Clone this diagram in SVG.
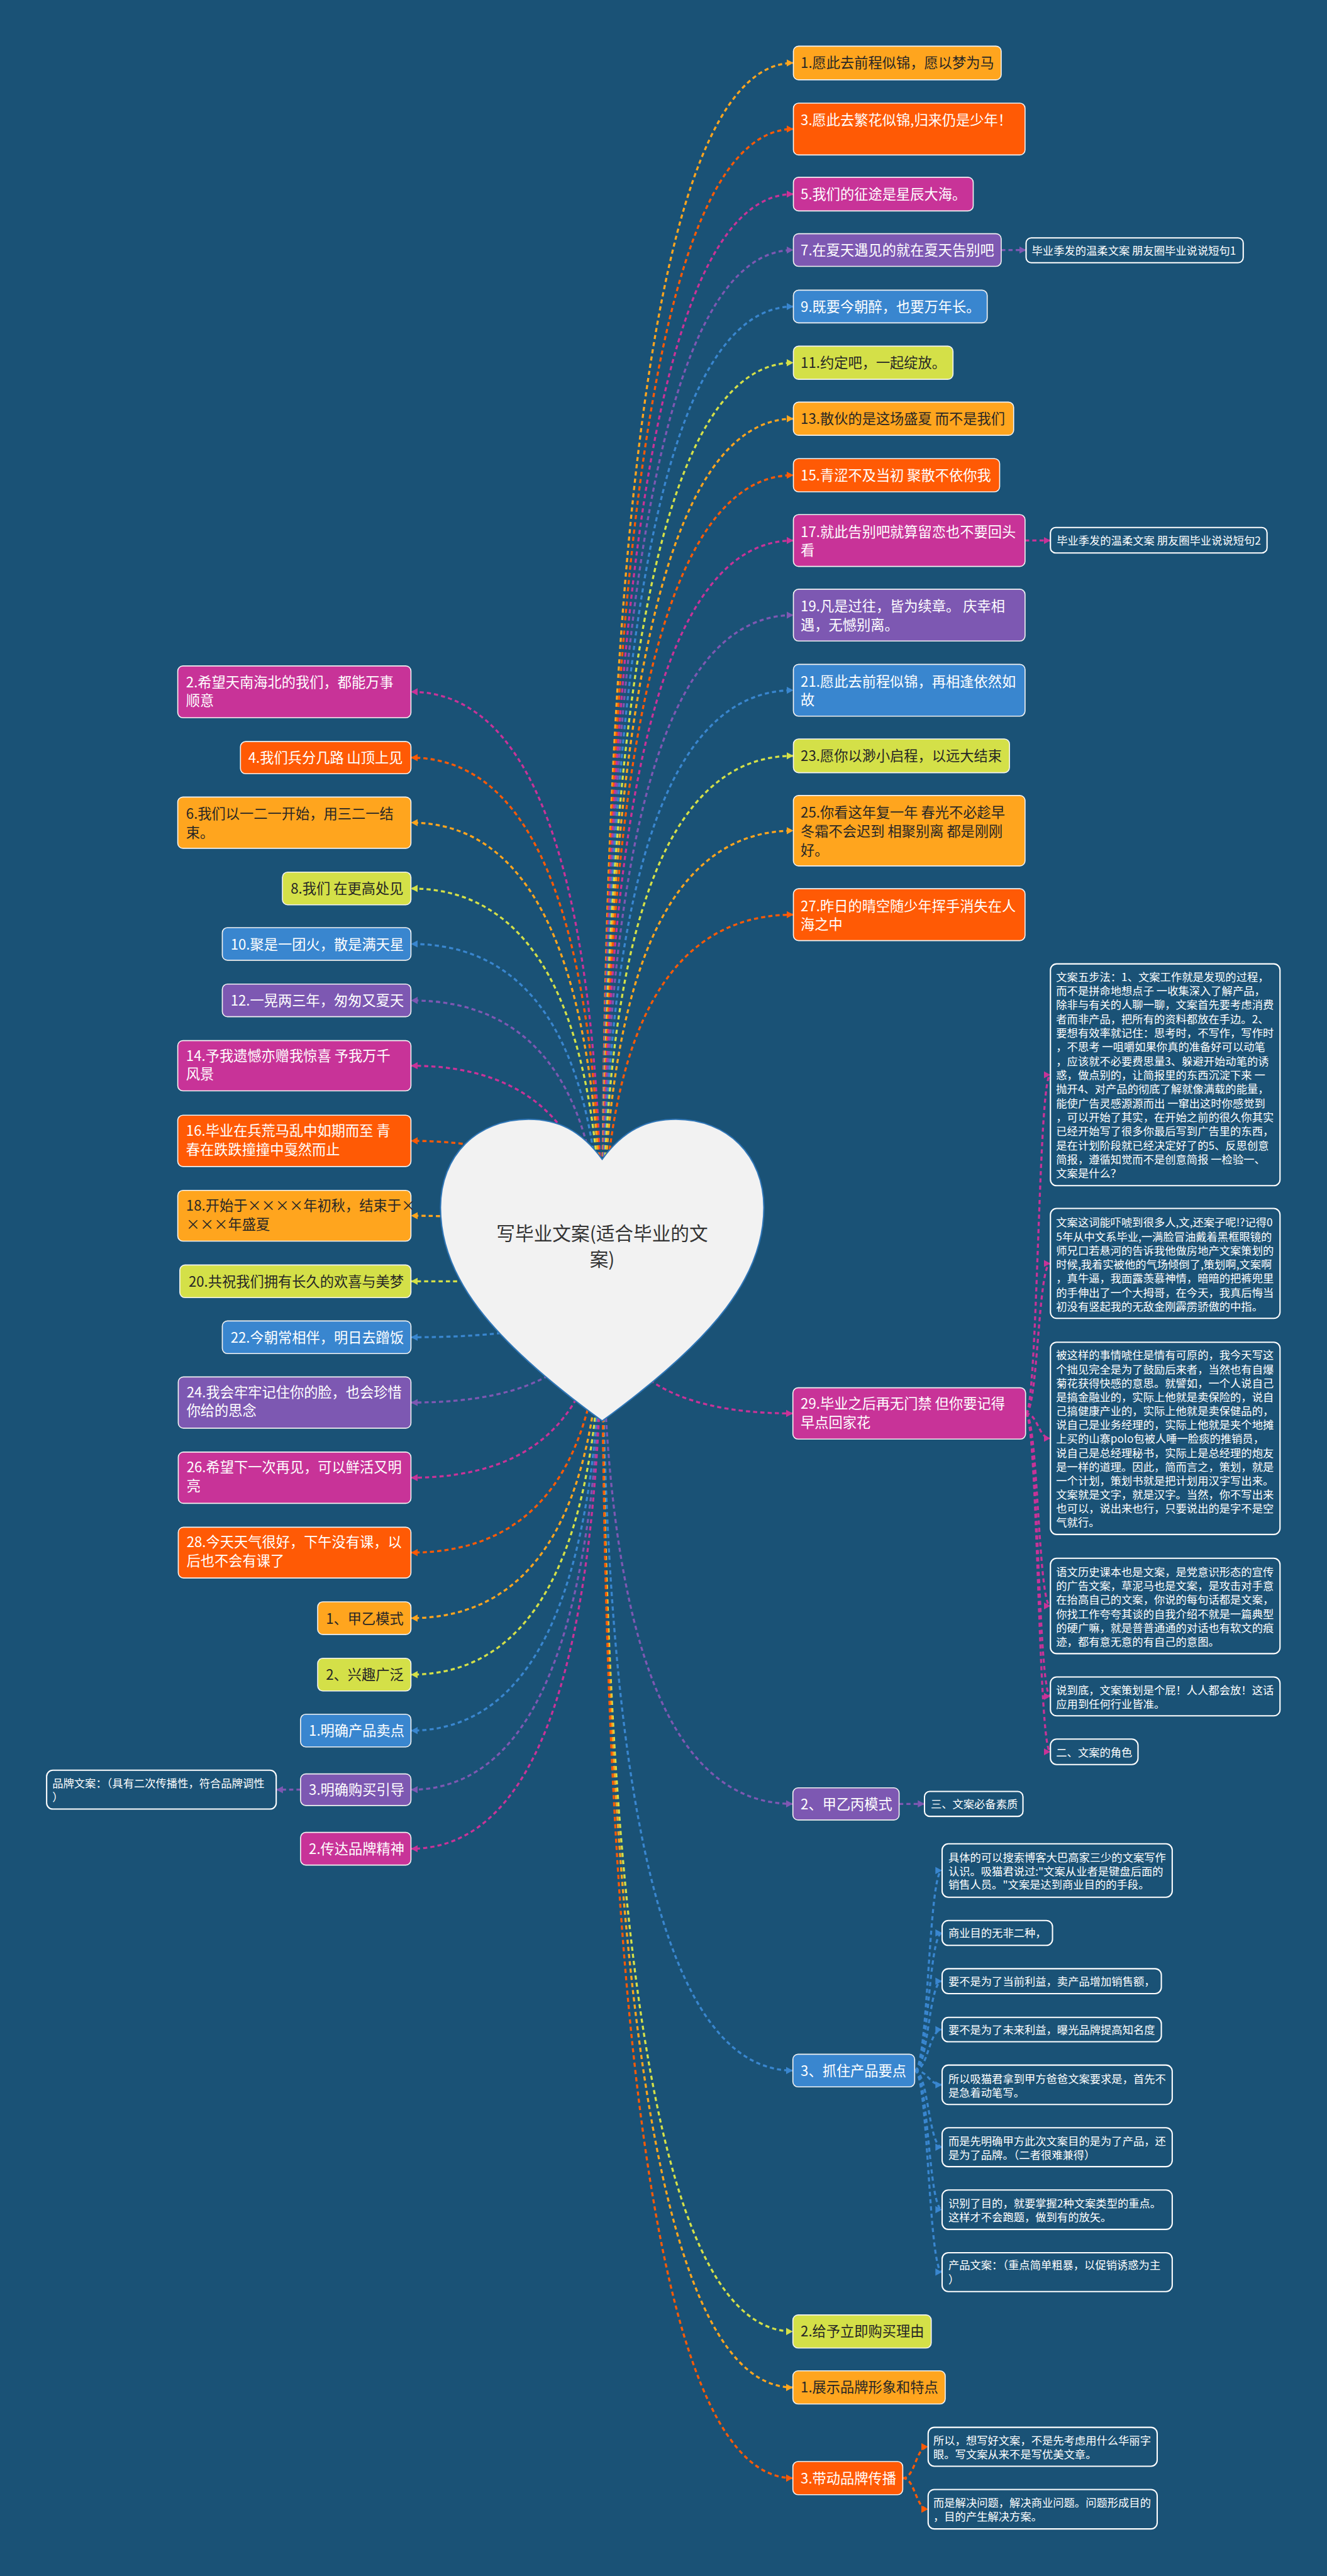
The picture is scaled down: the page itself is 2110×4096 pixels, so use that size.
<svg xmlns="http://www.w3.org/2000/svg" width="2110" height="4096" viewBox="0 0 2110 4096">
<style>
text{font-family:"Noto Sans CJK SC","Noto Sans",sans-serif;}
.nt{font-size:27px;}
.dk{fill:#262626;}
.wt{fill:#ffffff;}
.st{font-size:21px;fill:#ffffff;}
.box{stroke:#f2f2f2;stroke-width:2;}
.tb{fill:#1A5276;stroke:#ffffff;stroke-width:2.5;}
.c{fill:none;stroke-width:4;stroke-dasharray:8 6;}
.oy{fill:#FFA51E;} .ro{fill:#FF5A05;} .mg{fill:#C83398;} .pu{fill:#7D58B2;} .bl{fill:#3986CF;} .yg{fill:#D4E048;}
.coy{stroke:#FFA51E;} .cro{stroke:#FF5A05;} .cmg{stroke:#C83398;} .cpu{stroke:#7D58B2;} .cbl{stroke:#3986CF;} .cyg{stroke:#D4E048;}
</style>
<defs>
<marker id="m-oy" markerUnits="userSpaceOnUse" markerWidth="14" markerHeight="16" refX="13" refY="8" orient="auto"><path d="M0,1 L13,8 L0,15 Z" fill="#FFA51E"/></marker>
<marker id="m-ro" markerUnits="userSpaceOnUse" markerWidth="14" markerHeight="16" refX="13" refY="8" orient="auto"><path d="M0,1 L13,8 L0,15 Z" fill="#FF5A05"/></marker>
<marker id="m-mg" markerUnits="userSpaceOnUse" markerWidth="14" markerHeight="16" refX="13" refY="8" orient="auto"><path d="M0,1 L13,8 L0,15 Z" fill="#C83398"/></marker>
<marker id="m-pu" markerUnits="userSpaceOnUse" markerWidth="14" markerHeight="16" refX="13" refY="8" orient="auto"><path d="M0,1 L13,8 L0,15 Z" fill="#7D58B2"/></marker>
<marker id="m-bl" markerUnits="userSpaceOnUse" markerWidth="14" markerHeight="16" refX="13" refY="8" orient="auto"><path d="M0,1 L13,8 L0,15 Z" fill="#3986CF"/></marker>
<marker id="m-yg" markerUnits="userSpaceOnUse" markerWidth="14" markerHeight="16" refX="13" refY="8" orient="auto"><path d="M0,1 L13,8 L0,15 Z" fill="#D4E048"/></marker>
</defs>
<rect x="0" y="0" width="2110" height="4096" fill="#1A5276"/>
<g transform="scale(0.824)">
<g id="connectors">
<path class="c coy" marker-end="url(#m-oy)" d="M1162,2470 Q1162,121.5 1531,121.5"/>
<path class="c cro" marker-end="url(#m-ro)" d="M1162,2470 Q1162,249 1531,249"/>
<path class="c cmg" marker-end="url(#m-mg)" d="M1162,2470 Q1162,374.5 1531,374.5"/>
<path class="c cpu" marker-end="url(#m-pu)" d="M1162,2470 Q1162,482.5 1531,482.5"/>
<path class="c cbl" marker-end="url(#m-bl)" d="M1162,2470 Q1162,591.5 1531,591.5"/>
<path class="c cyg" marker-end="url(#m-yg)" d="M1162,2470 Q1162,700 1531,700"/>
<path class="c coy" marker-end="url(#m-oy)" d="M1162,2470 Q1162,808 1531,808"/>
<path class="c cro" marker-end="url(#m-ro)" d="M1162,2470 Q1162,917 1531,917"/>
<path class="c cmg" marker-end="url(#m-mg)" d="M1162,2470 Q1162,1043 1531,1043"/>
<path class="c cpu" marker-end="url(#m-pu)" d="M1162,2470 Q1162,1187 1531,1187"/>
<path class="c cbl" marker-end="url(#m-bl)" d="M1162,2470 Q1162,1332 1531,1332"/>
<path class="c cyg" marker-end="url(#m-yg)" d="M1162,2470 Q1162,1458.5 1531,1458.5"/>
<path class="c coy" marker-end="url(#m-oy)" d="M1162,2470 Q1162,1603 1531,1603"/>
<path class="c cro" marker-end="url(#m-ro)" d="M1162,2470 Q1162,1765 1531,1765"/>
<path class="c cmg" marker-end="url(#m-mg)" d="M1162,2470 Q1162,2727.5 1530,2727.5"/>
<path class="c cpu" marker-end="url(#m-pu)" d="M1162,2470 Q1162,3481 1530,3481"/>
<path class="c cbl" marker-end="url(#m-bl)" d="M1162,2470 Q1162,3995.5 1530,3995.5"/>
<path class="c cyg" marker-end="url(#m-yg)" d="M1162,2470 Q1162,4499 1530,4499"/>
<path class="c coy" marker-end="url(#m-oy)" d="M1162,2470 Q1162,4607 1530,4607"/>
<path class="c cro" marker-end="url(#m-ro)" d="M1162,2470 Q1162,4782 1530,4782"/>
<path class="c cmg" marker-end="url(#m-mg)" d="M1162,2470 Q1162,1335 793,1335"/>
<path class="c cro" marker-end="url(#m-ro)" d="M1162,2470 Q1162,1462 793,1462"/>
<path class="c coy" marker-end="url(#m-oy)" d="M1162,2470 Q1162,1587.5 793,1587.5"/>
<path class="c cyg" marker-end="url(#m-yg)" d="M1162,2470 Q1162,1714.5 793,1714.5"/>
<path class="c cbl" marker-end="url(#m-bl)" d="M1162,2470 Q1162,1821.5 793,1821.5"/>
<path class="c cpu" marker-end="url(#m-pu)" d="M1162,2470 Q1162,1930.5 793,1930.5"/>
<path class="c cmg" marker-end="url(#m-mg)" d="M1162,2470 Q1162,2056.5 793,2056.5"/>
<path class="c cro" marker-end="url(#m-ro)" d="M1162,2470 Q1162,2201.5 793,2201.5"/>
<path class="c coy" marker-end="url(#m-oy)" d="M1162,2470 Q1162,2346 793,2346"/>
<path class="c cyg" marker-end="url(#m-yg)" d="M1162,2470 Q1162,2472.5 793,2472.5"/>
<path class="c cbl" marker-end="url(#m-bl)" d="M1162,2470 Q1162,2580.5 793,2580.5"/>
<path class="c cpu" marker-end="url(#m-pu)" d="M1162,2470 Q1162,2706.5 793,2706.5"/>
<path class="c cmg" marker-end="url(#m-mg)" d="M1162,2470 Q1162,2851.5 793,2851.5"/>
<path class="c cro" marker-end="url(#m-ro)" d="M1162,2470 Q1162,2996 793,2996"/>
<path class="c coy" marker-end="url(#m-oy)" d="M1162,2470 Q1162,3122.5 793,3122.5"/>
<path class="c cyg" marker-end="url(#m-yg)" d="M1162,2470 Q1162,3231.5 793,3231.5"/>
<path class="c cbl" marker-end="url(#m-bl)" d="M1162,2470 Q1162,3339.5 793,3339.5"/>
<path class="c cpu" marker-end="url(#m-pu)" d="M1162,2470 Q1162,3453.5 793,3453.5"/>
<path class="c cmg" marker-end="url(#m-mg)" d="M1162,2470 Q1162,3567.5 793,3567.5"/>
<path class="c cpu" marker-end="url(#m-pu)" d="M1932,482.5 L1980,482.5"/>
<path class="c cmg" marker-end="url(#m-mg)" d="M1978,1043 L2027,1043"/>
<path class="c cmg" marker-end="url(#m-mg)" d="M1979,2727.5 C2003,2727.5 2003,2074 2027,2074"/>
<path class="c cmg" marker-end="url(#m-mg)" d="M1979,2727.5 C2003,2727.5 2003,2438 2027,2438"/>
<path class="c cmg" marker-end="url(#m-mg)" d="M1979,2727.5 C2003,2727.5 2003,2775.5 2027,2775.5"/>
<path class="c cmg" marker-end="url(#m-mg)" d="M1979,2727.5 C2003,2727.5 2003,3099 2027,3099"/>
<path class="c cmg" marker-end="url(#m-mg)" d="M1979,2727.5 C2003,2727.5 2003,3273.5 2027,3273.5"/>
<path class="c cmg" marker-end="url(#m-mg)" d="M1979,2727.5 C2003,2727.5 2003,3380.5 2027,3380.5"/>
<path class="c cpu" marker-end="url(#m-pu)" d="M1735,3481 L1784,3481"/>
<path class="c cbl" marker-end="url(#m-bl)" d="M1765,3995.5 C1791.5,3995.5 1791.5,3609.5 1818,3609.5"/>
<path class="c cbl" marker-end="url(#m-bl)" d="M1765,3995.5 C1791.5,3995.5 1791.5,3730 1818,3730"/>
<path class="c cbl" marker-end="url(#m-bl)" d="M1765,3995.5 C1791.5,3995.5 1791.5,3823 1818,3823"/>
<path class="c cbl" marker-end="url(#m-bl)" d="M1765,3995.5 C1791.5,3995.5 1791.5,3916.5 1818,3916.5"/>
<path class="c cbl" marker-end="url(#m-bl)" d="M1765,3995.5 C1791.5,3995.5 1791.5,4023 1818,4023"/>
<path class="c cbl" marker-end="url(#m-bl)" d="M1765,3995.5 C1791.5,3995.5 1791.5,4143.5 1818,4143.5"/>
<path class="c cbl" marker-end="url(#m-bl)" d="M1765,3995.5 C1791.5,3995.5 1791.5,4264 1818,4264"/>
<path class="c cbl" marker-end="url(#m-bl)" d="M1765,3995.5 C1791.5,3995.5 1791.5,4384.5 1818,4384.5"/>
<path class="c cro" marker-end="url(#m-ro)" d="M1742,4782 C1766.5,4782 1766.5,4721.5 1791,4721.5"/>
<path class="c cro" marker-end="url(#m-ro)" d="M1742,4782 C1766.5,4782 1766.5,4842 1791,4842"/>
<path class="c cpu" marker-end="url(#m-pu)" d="M580,3453.5 L533,3453.5"/>
</g>
<g id="root">
<path d="M1162,2237 C1120,2180 1075,2160 1020,2160 C920,2160 850,2230 850,2330 C850,2460 940,2580 1162,2742 C1384,2580 1474,2460 1474,2330 C1474,2230 1404,2160 1304,2160 C1249,2160 1204,2180 1162,2237 Z" fill="#F2F2F2" stroke="#2E75B6" stroke-width="2.5"/>
<text x="1162" y="2393" font-size="36" fill="#333333" text-anchor="middle">写毕业文案(适合毕业的文</text>
<text x="1162" y="2443" font-size="36" fill="#333333" text-anchor="middle">案)</text>
</g>
<g id="n1"><rect class="box oy" x="1531" y="89" width="401" height="65" rx="10"/><text class="nt dk" x="1545" y="131">1.愿此去前程似锦，愿以梦为马</text></g>
<g id="n3"><rect class="box ro" x="1531" y="199" width="447" height="100" rx="10"/><text class="nt wt" x="1545" y="241">3.愿此去繁花似锦,归来仍是少年！</text></g>
<g id="n5"><rect class="box mg" x="1531" y="342" width="347" height="65" rx="10"/><text class="nt wt" x="1545" y="385">5.我们的征途是星辰大海。</text></g>
<g id="n7"><rect class="box pu" x="1531" y="451" width="401" height="63" rx="10"/><text class="nt wt" x="1545" y="493">7.在夏天遇见的就在夏天告别吧</text></g>
<g id="n7a"><rect class="tb" x="1980" y="459" width="419" height="48" rx="10"/><text class="st" x="1991" y="491">毕业季发的温柔文案 朋友圈毕业说说短句1</text></g>
<g id="n9"><rect class="box bl" x="1531" y="560" width="374" height="63" rx="10"/><text class="nt wt" x="1545" y="602">9.既要今朝醉，也要万年长。</text></g>
<g id="n11"><rect class="box yg" x="1531" y="668" width="308" height="64" rx="10"/><text class="nt dk" x="1545" y="710">11.约定吧，一起绽放。</text></g>
<g id="n13"><rect class="box oy" x="1531" y="776" width="425" height="64" rx="10"/><text class="nt dk" x="1545" y="818">13.散伙的是这场盛夏 而不是我们</text></g>
<g id="n15"><rect class="box ro" x="1531" y="885" width="398" height="64" rx="10"/><text class="nt wt" x="1545" y="927">15.青涩不及当初 聚散不依你我</text></g>
<g id="n17"><rect class="box mg" x="1531" y="993" width="447" height="100" rx="10"/><text class="nt wt" x="1545" y="1036">17.就此告别吧就算留恋也不要回头<tspan x="1545" dy="36">看</tspan></text></g>
<g id="n17a"><rect class="tb" x="2027" y="1018" width="418" height="49" rx="10"/><text class="st" x="2039" y="1051">毕业季发的温柔文案 朋友圈毕业说说短句2</text></g>
<g id="n19"><rect class="box pu" x="1531" y="1137" width="447" height="100" rx="10"/><text class="nt wt" x="1545" y="1180">19.凡是过往，皆为续章。 庆幸相<tspan x="1545" dy="36">遇，无憾别离。</tspan></text></g>
<g id="n21"><rect class="box bl" x="1531" y="1282" width="447" height="100" rx="10"/><text class="nt wt" x="1545" y="1325">21.愿此去前程似锦，再相逢依然如<tspan x="1545" dy="36">故</tspan></text></g>
<g id="n23"><rect class="box yg" x="1531" y="1426" width="417" height="65" rx="10"/><text class="nt dk" x="1545" y="1469">23.愿你以渺小启程，以远大结束</text></g>
<g id="n25"><rect class="box oy" x="1531" y="1535" width="447" height="136" rx="10"/><text class="nt dk" x="1545" y="1578">25.你看这年复一年 春光不必趁早<tspan x="1545" dy="36">冬霜不会迟到 相聚别离 都是刚刚</tspan><tspan x="1545" dy="36">好。</tspan></text></g>
<g id="n27"><rect class="box ro" x="1531" y="1715" width="447" height="100" rx="10"/><text class="nt wt" x="1545" y="1758">27.昨日的晴空随少年挥手消失在人<tspan x="1545" dy="36">海之中</tspan></text></g>
<g id="n29"><rect class="box mg" x="1530" y="2678" width="449" height="99" rx="10"/><text class="nt wt" x="1545" y="2719">29.毕业之后再无门禁 但你要记得<tspan x="1545" dy="36">早点回家花</tspan></text></g>
<g id="t1"><rect class="tb" x="2027" y="1860" width="443" height="428" rx="12"/><text class="st" x="2038" y="1893">文案五步法：1、文案工作就是发现的过程，<tspan x="2038" dy="27.1">而不是拼命地想点子 一收集深入了解产品，</tspan><tspan x="2038" dy="27.1">除非与有关的人聊一聊，文案首先要考虑消费</tspan><tspan x="2038" dy="27.1">者而非产品，把所有的资料都放在手边。2、</tspan><tspan x="2038" dy="27.1">要想有效率就记住：思考时，不写作，写作时</tspan><tspan x="2038" dy="27.1">，不思考 一咀嚼如果你真的准备好可以动笔</tspan><tspan x="2038" dy="27.1">，应该就不必要费思量3、躲避开始动笔的诱</tspan><tspan x="2038" dy="27.1">惑，做点别的，让简报里的东西沉淀下来 一</tspan><tspan x="2038" dy="27.1">抛开4、对产品的彻底了解就像满载的能量，</tspan><tspan x="2038" dy="27.1">能使广告灵感源源而出 一窜出这时你感觉到</tspan><tspan x="2038" dy="27.1">，可以开始了其实，在开始之前的很久你其实</tspan><tspan x="2038" dy="27.1">已经开始写了很多你最后写到广告里的东西，</tspan><tspan x="2038" dy="27.1">是在计划阶段就已经决定好了的5、反思创意</tspan><tspan x="2038" dy="27.1">简报，遵循知觉而不是创意简报 一检验一、</tspan><tspan x="2038" dy="27.1">文案是什么？</tspan></text></g>
<g id="t2"><rect class="tb" x="2027" y="2332" width="443" height="212" rx="12"/><text class="st" x="2038" y="2367">文案这词能吓唬到很多人,文,还案子呢!?记得0<tspan x="2038" dy="27">5年从中文系毕业,一满脸冒油戴着黑框眼镜的</tspan><tspan x="2038" dy="27">师兄口若悬河的告诉我他做房地产文案策划的</tspan><tspan x="2038" dy="27">时候,我着实被他的气场倾倒了,策划啊,文案啊</tspan><tspan x="2038" dy="27">，真牛逼，我面露羡慕神情，暗暗的把裤兜里</tspan><tspan x="2038" dy="27">的手伸出了一个大拇哥，在今天，我真后悔当</tspan><tspan x="2038" dy="27">初没有竖起我的无敌金刚霹雳骄傲的中指。</tspan></text></g>
<g id="t3"><rect class="tb" x="2027" y="2590" width="443" height="371" rx="12"/><text class="st" x="2038" y="2623">被这样的事情唬住是情有可原的，我今天写这<tspan x="2038" dy="26.9">个拙见完全是为了鼓励后来者，当然也有自爆</tspan><tspan x="2038" dy="26.9">菊花获得快感的意思。就譬如，一个人说自己</tspan><tspan x="2038" dy="26.9">是搞金融业的，实际上他就是卖保险的，说自</tspan><tspan x="2038" dy="26.9">己搞健康产业的，实际上他就是卖保健品的，</tspan><tspan x="2038" dy="26.9">说自己是业务经理的，实际上他就是夹个地摊</tspan><tspan x="2038" dy="26.9">上买的山寨polo包被人唾一脸痰的推销员，</tspan><tspan x="2038" dy="26.9">说自己是总经理秘书，实际上是总经理的炮友</tspan><tspan x="2038" dy="26.9">是一样的道理。因此，简而言之，策划，就是</tspan><tspan x="2038" dy="26.9">一个计划，策划书就是把计划用汉字写出来。</tspan><tspan x="2038" dy="26.9">文案就是文字，就是汉字。当然，你不写出来</tspan><tspan x="2038" dy="26.9">也可以，说出来也行，只要说出的是字不是空</tspan><tspan x="2038" dy="26.9">气就行。</tspan></text></g>
<g id="t4"><rect class="tb" x="2027" y="3007" width="443" height="184" rx="12"/><text class="st" x="2038" y="3041">语文历史课本也是文案，是党意识形态的宣传<tspan x="2038" dy="27">的广告文案，草泥马也是文案，是攻击对手意</tspan><tspan x="2038" dy="27">在抬高自己的文案，你说的每句话都是文案，</tspan><tspan x="2038" dy="27">你找工作夸夸其谈的自我介绍不就是一篇典型</tspan><tspan x="2038" dy="27">的硬广嘛，就是普普通通的对话也有软文的痕</tspan><tspan x="2038" dy="27">迹，都有意无意的有自己的意图。</tspan></text></g>
<g id="t5"><rect class="tb" x="2027" y="3236" width="443" height="75" rx="12"/><text class="st" x="2038" y="3270">说到底，文案策划是个屁！人人都会放！这话<tspan x="2038" dy="26.5">应用到任何行业皆准。</tspan></text></g>
<g id="t6"><rect class="tb" x="2027" y="3356" width="169" height="49" rx="12"/><text class="st" x="2038" y="3389">二、文案的角色</text></g>
<g id="njyb"><rect class="box pu" x="1530" y="3450" width="205" height="62" rx="10"/><text class="nt wt" x="1545" y="3491">2、甲乙丙模式</text></g>
<g id="njyb1"><rect class="tb" x="1784" y="3457" width="190" height="48" rx="10"/><text class="st" x="1796" y="3489">三、文案必备素质</text></g>
<g id="nzz"><rect class="box bl" x="1530" y="3964" width="235" height="63" rx="10"/><text class="nt wt" x="1545" y="4006">3、抓住产品要点</text></g>
<g id="c1"><rect class="tb" x="1818" y="3558" width="444" height="103" rx="12"/><text class="st" x="1830" y="3592">具体的可以搜索博客大巴高家三少的文案写作<tspan x="1830" dy="27">认识。吸猫君说过:"文案从业者是键盘后面的</tspan><tspan x="1830" dy="26">销售人员。"文案是达到商业目的的手段。</tspan></text></g>
<g id="c2"><rect class="tb" x="1818" y="3706" width="213" height="48" rx="12"/><text class="st" x="1830" y="3738">商业目的无非二种，</text></g>
<g id="c3"><rect class="tb" x="1818" y="3799" width="423" height="48" rx="12"/><text class="st" x="1830" y="3831">要不是为了当前利益，卖产品增加销售额，</text></g>
<g id="c4"><rect class="tb" x="1818" y="3893" width="423" height="47" rx="12"/><text class="st" x="1830" y="3925">要不是为了未来利益，曝光品牌提高知名度</text></g>
<g id="c5"><rect class="tb" x="1818" y="3985" width="444" height="76" rx="12"/><text class="st" x="1830" y="4019">所以吸猫君拿到甲方爸爸文案要求是，首先不<tspan x="1830" dy="27">是急着动笔写。</tspan></text></g>
<g id="c6"><rect class="tb" x="1818" y="4106" width="444" height="75" rx="12"/><text class="st" x="1830" y="4139">而是先明确甲方此次文案目的是为了产品，还<tspan x="1830" dy="27">是为了品牌。（二者很难兼得）</tspan></text></g>
<g id="c7"><rect class="tb" x="1818" y="4226" width="444" height="76" rx="12"/><text class="st" x="1830" y="4260">识别了目的，就要掌握2种文案类型的重点。<tspan x="1830" dy="27">这样才不会跑题，做到有的放矢。</tspan></text></g>
<g id="c8"><rect class="tb" x="1818" y="4347" width="444" height="75" rx="12"/><text class="st" x="1830" y="4379">产品文案：（重点简单粗暴，以促销诱惑为主<tspan x="1830" dy="27">）</tspan></text></g>
<g id="ngy"><rect class="box yg" x="1530" y="4467" width="267" height="64" rx="10"/><text class="nt dk" x="1545" y="4509">2.给予立即购买理由</text></g>
<g id="nzs"><rect class="box oy" x="1530" y="4575" width="294" height="64" rx="10"/><text class="nt dk" x="1545" y="4617">1.展示品牌形象和特点</text></g>
<g id="ndd"><rect class="box ro" x="1530" y="4750" width="212" height="64" rx="10"/><text class="nt wt" x="1545" y="4792">3.带动品牌传播</text></g>
<g id="d1"><rect class="tb" x="1791" y="4684" width="442" height="75" rx="12"/><text class="st" x="1801" y="4717">所以，想写好文案，不是先考虑用什么华丽字<tspan x="1801" dy="27">眼。写文案从来不是写优美文章。</tspan></text></g>
<g id="d2"><rect class="tb" x="1791" y="4804" width="442" height="76" rx="12"/><text class="st" x="1801" y="4837">而是解决问题，解决商业问题。问题形成目的<tspan x="1801" dy="27">，目的产生解决方案。</tspan></text></g>
<g id="n2"><rect class="box mg" x="343" y="1285" width="450" height="100" rx="10"/><text class="nt wt" x="359" y="1326">2.希望天南海北的我们，都能万事<tspan x="359" dy="36">顺意</tspan></text></g>
<g id="n4"><rect class="box ro" x="464" y="1431" width="329" height="62" rx="10"/><text class="nt wt" x="479" y="1472">4.我们兵分几路 山顶上见</text></g>
<g id="n6"><rect class="box oy" x="343" y="1538" width="450" height="99" rx="10"/><text class="nt dk" x="359" y="1580">6.我们以一二一开始，用三二一结<tspan x="359" dy="36">束。</tspan></text></g>
<g id="n8"><rect class="box yg" x="545" y="1683" width="248" height="63" rx="10"/><text class="nt dk" x="561" y="1725">8.我们 在更高处见</text></g>
<g id="n10"><rect class="box bl" x="429" y="1790" width="364" height="63" rx="10"/><text class="nt wt" x="445" y="1832">10.聚是一团火，散是满天星</text></g>
<g id="n12"><rect class="box pu" x="429" y="1899" width="364" height="63" rx="10"/><text class="nt wt" x="445" y="1941">12.一晃两三年，匆匆又夏天</text></g>
<g id="n14"><rect class="box mg" x="343" y="2008" width="450" height="97" rx="10"/><text class="nt wt" x="359" y="2047">14.予我遗憾亦赠我惊喜 予我万千<tspan x="359" dy="36">风景</tspan></text></g>
<g id="n16"><rect class="box ro" x="343" y="2152" width="450" height="99" rx="10"/><text class="nt wt" x="359" y="2192">16.毕业在兵荒马乱中如期而至 青<tspan x="359" dy="36">春在跌跌撞撞中戛然而止</tspan></text></g>
<g id="n18"><rect class="box oy" x="343" y="2297" width="450" height="98" rx="10"/><text class="nt dk" x="359" y="2336">18.开始于××××年初秋，结束于×<tspan x="359" dy="36">×××年盛夏</tspan></text></g>
<g id="n20"><rect class="box yg" x="347" y="2441" width="446" height="63" rx="10"/><text class="nt dk" x="364" y="2483">20.共祝我们拥有长久的欢喜与美梦</text></g>
<g id="n22"><rect class="box bl" x="429" y="2549" width="364" height="63" rx="10"/><text class="nt wt" x="445" y="2591">22.今朝常相伴，明日去蹭饭</text></g>
<g id="n24"><rect class="box pu" x="344" y="2657" width="449" height="99" rx="10"/><text class="nt wt" x="360" y="2696">24.我会牢牢记住你的脸，也会珍惜<tspan x="360" dy="36">你给的思念</tspan></text></g>
<g id="n26"><rect class="box mg" x="344" y="2802" width="449" height="99" rx="10"/><text class="nt wt" x="360" y="2841">26.希望下一次再见，可以鲜活又明<tspan x="360" dy="36">亮</tspan></text></g>
<g id="n28"><rect class="box ro" x="344" y="2947" width="449" height="98" rx="10"/><text class="nt wt" x="360" y="2986">28.今天天气很好，下午没有课，以<tspan x="360" dy="36">后也不会有课了</tspan></text></g>
<g id="njy"><rect class="box oy" x="613" y="3091" width="180" height="63" rx="10"/><text class="nt dk" x="629" y="3133">1、甲乙模式</text></g>
<g id="nxq"><rect class="box yg" x="613" y="3200" width="180" height="63" rx="10"/><text class="nt dk" x="629" y="3242">2、兴趣广泛</text></g>
<g id="nmq"><rect class="box bl" x="580" y="3308" width="213" height="63" rx="10"/><text class="nt wt" x="596" y="3350">1.明确产品卖点</text></g>
<g id="nmg"><rect class="box pu" x="580" y="3423" width="213" height="61" rx="10"/><text class="nt wt" x="596" y="3464">3.明确购买引导</text></g>
<g id="nmga"><rect class="tb" x="90" y="3416" width="443" height="75" rx="12"/><text class="st" x="101" y="3449">品牌文案：（具有二次传播性，符合品牌调性<tspan x="101" dy="27">）</tspan></text></g>
<g id="ncd"><rect class="box mg" x="580" y="3536" width="213" height="63" rx="10"/><text class="nt wt" x="596" y="3578">2.传达品牌精神</text></g>
</g>
</svg>
